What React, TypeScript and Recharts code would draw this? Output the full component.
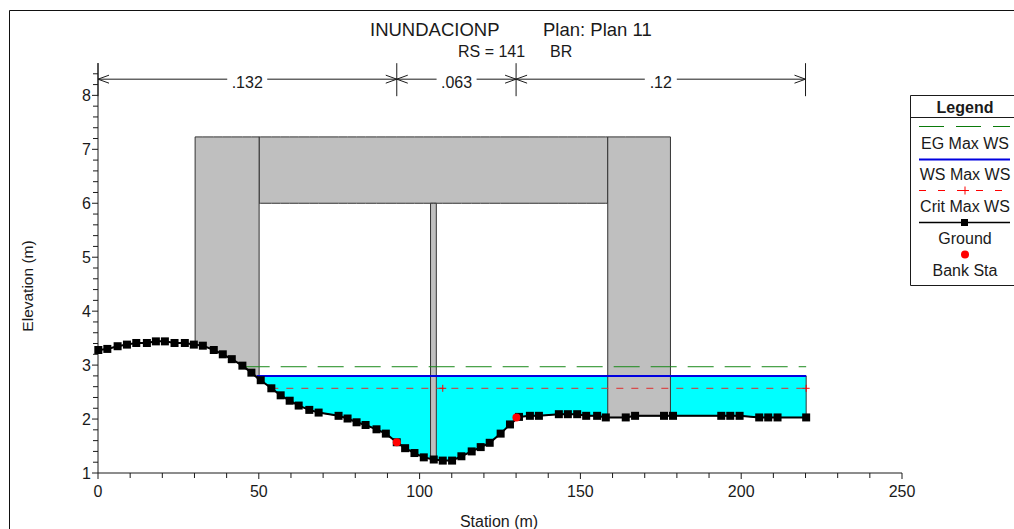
import React from "react";
import { ComposedChart, Area, Line, XAxis, YAxis, Legend } from "recharts";

const FONT = "'Liberation Sans', Arial, sans-serif";
const INK = "#1a1a1a";

const groundStations = [0.1, 2.9, 6.1, 9.0, 11.9, 15.2, 18.0, 20.8, 23.8, 27.0, 29.8, 32.6, 36.0, 38.8, 41.6, 44.9, 47.7, 50.6, 53.9, 56.8, 59.6, 62.4, 65.7, 68.6, 74.8, 77.6, 80.4, 83.2, 86.6, 89.5, 92.9, 95.5, 98.4, 101.3, 104.4, 107.2, 110.1, 113.0, 116.2, 119.0, 121.8, 125.2, 128.1, 130.9, 134.3, 137.1, 143.3, 146.1, 149.0, 151.8, 155.2, 157.9, 164.1, 167.0, 176.0, 178.8, 193.8, 196.6, 199.5, 205.6, 208.4, 211.3, 220.2];
const groundElevations = [3.28, 3.30, 3.35, 3.38, 3.41, 3.41, 3.44, 3.44, 3.41, 3.41, 3.38, 3.36, 3.28, 3.20, 3.11, 2.99, 2.86, 2.72, 2.57, 2.44, 2.34, 2.25, 2.17, 2.12, 2.06, 2.01, 1.94, 1.89, 1.81, 1.73, 1.57, 1.46, 1.37, 1.29, 1.25, 1.23, 1.23, 1.31, 1.40, 1.48, 1.56, 1.73, 1.90, 2.04, 2.06, 2.06, 2.09, 2.09, 2.09, 2.06, 2.06, 2.03, 2.03, 2.06, 2.06, 2.06, 2.06, 2.06, 2.06, 2.03, 2.03, 2.03, 2.03];

const egStations = [45.3, 220.2];
const egElevations = [2.97, 2.97];
const wsStations = [49.4, 220.2];
const wsElevations = [2.8, 2.8];
const critStations = [53.9, 107.2, 220.2];
const critElevations = [2.57, 2.57, 2.57];
const bankStations = [92.9, 130.1];
const bankElevations = [1.57, 2.03];

const nStations = [0, 92.9, 130, 220];
const nElevations = [8.3, 8.3, 8.3, 8.3];
const nLabelStations = [46.4, 111.5, 175];
const nLabelElevations = [8.3, 8.3, 8.3];
const nLabels = [".132", ".063", ".12"];

const deckTop = 7.23;
const deckLow = 6.0;
const leftWall = [30.2, 50.1];
const leftWallFoot = [3.38, 2.71];
const rightWall = [158.5, 178.0];
const rightWallFoot = [2.03, 2.06];
const pierStations = [103.4, 105.2];
const pierFoot = [1.27, 1.25];

const xTicks = [0, 10, 20, 30, 40, 50, 60, 70, 80, 90, 100, 110, 120, 130, 140, 150, 160, 170, 180, 190, 200, 210, 220, 230, 240, 250];
const yTicks = [1, 1.2, 1.4, 1.6, 1.8, 2, 2.2, 2.4, 2.6, 2.8, 3, 3.2, 3.4, 3.6, 3.8, 4, 4.2, 4.4, 4.6, 4.8, 5, 5.2, 5.4, 5.6, 5.8, 6, 6.2, 6.4, 6.6, 6.8, 7, 7.2, 7.4, 7.6, 7.8, 8, 8.2, 8.4];
const legendNames = ["EG Max WS", "WS Max WS", "Crit Max WS", "Ground", "Bank Sta"];

const zip = (xs: number[], ys: number[]) => xs.map((x, i) => ({ x, y: ys[i] }));
const ground = zip(groundStations, groundElevations);
const eg = zip(egStations, egElevations);
const ws = zip(wsStations, wsElevations);
const crit = zip(critStations, critElevations);
const bank = zip(bankStations, bankElevations);
const nBar = zip(nStations, nElevations);
const nMid = zip(nLabelStations, nLabelElevations);

const footedBand = (x0: number, x1: number, foot0: number, foot1: number, top: number) => [
  { x: x0, range: [foot0, foot0] },
  { x: x0, range: [foot0, top] },
  ...ground.filter((g) => g.x > x0 && g.x < x1).map((g) => ({ x: g.x, range: [g.y, top] })),
  { x: x1, range: [foot1, top] },
  { x: x1, range: [foot1, foot1] },
];

const waterRows = footedBand(wsStations[0], wsStations[1], wsElevations[0], groundElevations[groundElevations.length - 1], wsElevations[0]);
const leftRows = footedBand(leftWall[0], leftWall[1], leftWallFoot[0], leftWallFoot[1], deckTop);
const rightRows = footedBand(rightWall[0], rightWall[1], rightWallFoot[0], rightWallFoot[1], deckTop);
const pierRows = footedBand(pierStations[0], pierStations[1], pierFoot[0], pierFoot[1], deckLow);
const deckRows = footedBand(leftWall[1], rightWall[0], deckLow, deckLow, deckTop).map((r) => ({
  x: r.x,
  range: r.range[0] === r.range[1] ? [deckLow, deckLow] : [deckLow, deckTop],
}));

const XTick = ({ x, y, payload }: any) => {
  const major = payload.value % 50 === 0;
  return (
    <g>
      <line x1={x} x2={x} y1={y} y2={y + (major ? 6 : 5)} stroke={INK} />
      {major && (
        <text x={x} y={y + 24} textAnchor="middle" fontFamily={FONT} fontSize={16} fill={INK}>
          {payload.value}
        </text>
      )}
    </g>
  );
};

const YTick = ({ x, y, payload }: any) => {
  const major = Number.isInteger(payload.value);
  return (
    <g>
      <line x1={x} x2={x - (major ? 6 : 5)} y1={y} y2={y} stroke={INK} />
      {major && (
        <text x={x - 7} y={y + 6} textAnchor="end" fontFamily={FONT} fontSize={16} fill={INK}>
          {payload.value}
        </text>
      )}
    </g>
  );
};

const squareDot = ({ cx, cy, index }: any) => <rect key={index} x={cx - 4} y={cy - 4} width={8} height={8} fill="#000" />;
const circleDot = ({ cx, cy, index }: any) => <circle key={index} cx={cx} cy={cy} r={4} fill="#f00" />;
const crossDot = ({ cx, cy, index }: any) => (
  <path key={index} d={`M${cx - 3.5} ${cy}H${cx + 3.5}M${cx} ${cy - 3.5}V${cy + 3.5}`} stroke="#f00" fill="none" />
);
const boundaryDot = ({ cx, cy, index }: any) => (
  <g key={index} fill="none" stroke={INK}>
    <line x1={cx} x2={cx} y1={cy - 16} y2={cy + 17} />
    {index < nStations.length - 1 && <path d={`M${cx + 11} ${cy - 4}L${cx} ${cy}L${cx + 11} ${cy + 4}`} />}
    {index > 0 && <path d={`M${cx - 11} ${cy - 4}L${cx} ${cy}L${cx - 11} ${cy + 4}`} />}
  </g>
);
const nLabelDot = ({ cx, cy, index }: any) => {
  const w = nLabels[index].length * 8 + 8;
  return (
    <g key={index}>
      <rect x={cx - w / 2} y={cy - 8} width={w} height={16} fill="#fff" />
      <text x={cx} y={cy + 9} textAnchor="middle" fontFamily={FONT} fontSize={16} fill={INK}>
        {nLabels[index]}
      </text>
    </g>
  );
};

const LegendBox = () => {
  const t = { fontFamily: FONT, fontSize: 16, fill: INK, textAnchor: "middle" } as const;
  const cx = 55;
  return (
    <svg width={104} height={192} style={{ display: "block" }}>
      <path d="M104 0.5H0.5V190.5H104M0 22.5H104" fill="#fff" stroke={INK} />
      <text x={cx} y={18} {...t} fontWeight="bold">Legend</text>
      <line x1={9} x2={100} y1={31.5} y2={31.5} stroke="#0a7a0a" strokeDasharray="25 12" />
      <text x={cx} y={54} {...t}>{legendNames[0]}</text>
      <line x1={9} x2={100} y1={64.5} y2={64.5} stroke="#0000e0" strokeWidth={2} />
      <text x={cx} y={85} {...t}>{legendNames[1]}</text>
      <line x1={9} x2={100} y1={95.5} y2={95.5} stroke="#f00" strokeDasharray="7 12" />
      <path d={`M${cx - 4} 95.5H${cx + 4}M${cx} 91.5V99.5`} stroke="#f00" />
      <text x={cx} y={117} {...t}>{legendNames[2]}</text>
      <line x1={9} x2={100} y1={127.5} y2={127.5} stroke="#000" strokeWidth={1.5} />
      <rect x={cx - 4} y={124} width={7} height={7} fill="#000" />
      <text x={cx} y={149} {...t}>{legendNames[3]}</text>
      <circle cx={cx} cy={159.5} r={4} fill="#f00" />
      <text x={cx} y={181} {...t}>{legendNames[4]}</text>
    </svg>
  );
};

export default function App() {
  return (
    <div style={{ position: "absolute", left: 0, top: 0, width: 1014, height: 529, overflow: "hidden", background: "#fff" }}>
      <ComposedChart width={1014} height={529} margin={{ top: 63, right: 112, bottom: 0, left: 0 }}>
        <XAxis
          type="number"
          dataKey="x"
          domain={[0, 250]}
          ticks={xTicks}
          interval={0}
          height={56}
          tickSize={0}
          tickMargin={0}
          tick={<XTick />}
          axisLine={{ stroke: INK }}
          tickLine={false}
        />
        <YAxis
          type="number"
          domain={[1, 8.6]}
          ticks={yTicks}
          interval={0}
          width={98}
          tickSize={0}
          tickMargin={0}
          tick={<YTick />}
          axisLine={{ stroke: INK }}
          tickLine={false}
          allowDataOverflow
        />
        <Area data={waterRows} dataKey="range" type="linear" fill="#00ffff" fillOpacity={1} stroke="#333" strokeWidth={1} isAnimationActive={false} legendType="none" dot={false} activeDot={false} />
        <Area data={deckRows} dataKey="range" type="linear" fill="#bfbfbf" fillOpacity={1} stroke="#333" strokeWidth={1} isAnimationActive={false} legendType="none" dot={false} activeDot={false} />
        <Area data={leftRows} dataKey="range" type="linear" fill="#bfbfbf" fillOpacity={1} stroke="#333" strokeWidth={1} isAnimationActive={false} legendType="none" dot={false} activeDot={false} />
        <Area data={rightRows} dataKey="range" type="linear" fill="#bfbfbf" fillOpacity={1} stroke="#333" strokeWidth={1} isAnimationActive={false} legendType="none" dot={false} activeDot={false} />
        <Area data={pierRows} dataKey="range" type="linear" fill="#bfbfbf" fillOpacity={1} stroke="#333" strokeWidth={1} isAnimationActive={false} legendType="none" dot={false} activeDot={false} />
        <Line data={eg} dataKey="y" name={legendNames[0]} type="linear" stroke="#1a8a1a" strokeWidth={1} strokeDasharray="26 11" dot={false} activeDot={false} isAnimationActive={false} />
        <Line data={ws} dataKey="y" name={legendNames[1]} type="linear" stroke="#0000e0" strokeWidth={2} dot={false} activeDot={false} isAnimationActive={false} />
        <Line data={crit} dataKey="y" name={legendNames[2]} type="linear" stroke="#e03030" strokeWidth={1} strokeDasharray="7 8" dot={crossDot} activeDot={false} isAnimationActive={false} />
        <Line data={ground} dataKey="y" name={legendNames[3]} type="linear" stroke="#000" strokeWidth={2} dot={squareDot} activeDot={false} isAnimationActive={false} />
        <Line data={bank} dataKey="y" name={legendNames[4]} type="linear" stroke="none" dot={circleDot} activeDot={false} isAnimationActive={false} />
        <Line data={nBar} dataKey="y" type="linear" stroke={INK} strokeWidth={1} dot={boundaryDot} activeDot={false} isAnimationActive={false} legendType="none" />
        <Line data={nMid} dataKey="y" type="linear" stroke="none" dot={nLabelDot} activeDot={false} isAnimationActive={false} legendType="none" />
        <Legend layout="vertical" align="center" verticalAlign="middle" content={<LegendBox />} wrapperStyle={{ position: "absolute", left: 910, top: 95, width: 104, height: 192, margin: 0 }} />
        <path d="M1014 10.5H9.5V529" fill="none" stroke="#111" />
        <g fontFamily={FONT} fill={INK}>
          <text x={370} y={36} fontSize={18.5}>INUNDACIONP</text>
          <text x={543} y={36} fontSize={18.5}>Plan: Plan 11</text>
          <text x={458} y={57} fontSize={16}>RS = 141</text>
          <text x={550} y={57} fontSize={16}>BR</text>
          <text x={499} y={527} fontSize={16} textAnchor="middle">Station (m)</text>
          <text x={33} y={286} fontSize={15.5} textAnchor="middle" transform="rotate(-90 33 286)">Elevation (m)</text>
        </g>
      </ComposedChart>
    </div>
  );
}
